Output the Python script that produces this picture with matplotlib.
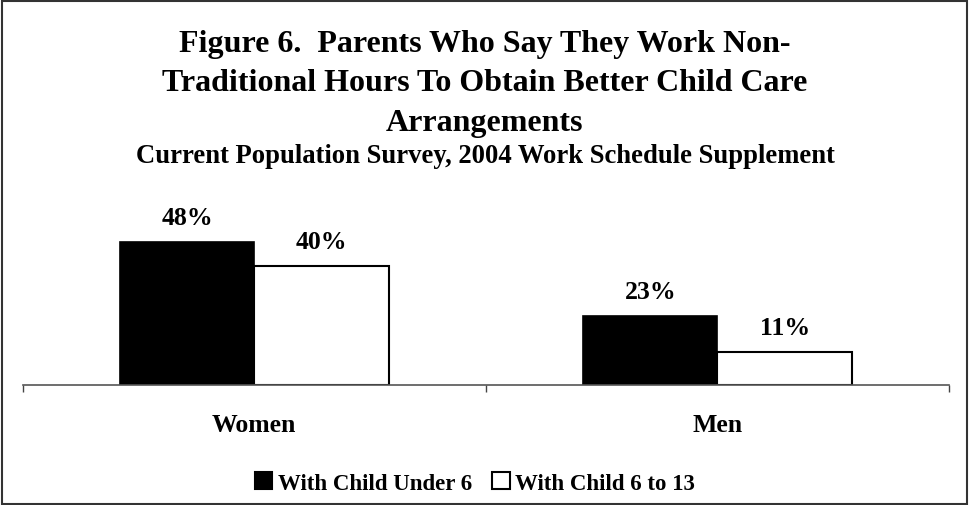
import matplotlib
matplotlib.use("Agg")
import matplotlib.pyplot as plt
import numpy as np
from matplotlib.patches import Patch, Rectangle

categories = ["Women", "Men"]
series_names = ["With Child Under 6", "With Child 6 to 13"]
under6 = [48, 23]
six_to_13 = [40, 11]
title_lines = ["Figure 6.  Parents Who Say They Work Non-",
               "Traditional Hours To Obtain Better Child Care",
               "Arrangements"]
subtitle = "Current Population Survey, 2004 Work Schedule Supplement"

plt.rcParams['font.family'] = ['Liberation Serif', 'DejaVu Serif']
plt.rcParams['font.weight'] = 'bold'

fig = plt.figure(figsize=(9.7, 5.06), dpi=100)
ax = fig.add_axes([22.7/970, 120/506, (949-22.7)/970, 179/506])

x = np.arange(len(categories))
w = 0.29
b1 = ax.bar(x - w/2, under6, w, color='black', edgecolor='black', linewidth=1.2)
b2 = ax.bar(x + w/2, six_to_13, w, color='white', edgecolor='black', linewidth=1.5)

for bars, vals in ((b1, under6), (b2, six_to_13)):
    for r, v in zip(bars, vals):
        ax.annotate(f"{v}%", (r.get_x() + r.get_width()/2, r.get_height()),
                    xytext=(0, 13), textcoords='offset points',
                    ha='center', va='baseline', fontsize=18.5, fontweight='bold')

ax.set_xlim(-0.5, 1.5)
ax.set_ylim(0, 60)
ax.set_yticks([])
ax.set_xticks(x, labels=categories)
ax.tick_params(axis='x', which='major', length=0, pad=20.5, labelsize=18.5)
ax.set_xticks([-0.5, 0.5, 1.5], minor=True)
ax.tick_params(axis='x', which='minor', length=5, width=1, color='#444444', direction='out')
for s in ['left', 'right', 'top']:
    ax.spines[s].set_visible(False)
ax.spines['bottom'].set_color('#555555')
ax.spines['bottom'].set_linewidth(1.2)
ax.patch.set_alpha(0)

for line, base in zip(title_lines, [52, 91.5, 131]):
    fig.text(0.5, 1 - base/506, line, ha='center', va='baseline',
             fontsize=23, fontweight='bold')
fig.text(0.5, 1 - 163/506, subtitle, ha='center', va='baseline',
         fontsize=19.2, fontweight='bold')

handles = [Patch(facecolor='black', edgecolor='black', linewidth=1.5),
           Patch(facecolor='white', edgecolor='black', linewidth=1.5)]
fig.legend(handles, series_names, loc='center', bbox_to_anchor=(475/970, 1 - 484/506),
           ncol=2, frameon=False, fontsize=16.5, handlelength=0.75, handleheight=0.75,
           handletextpad=0.25, columnspacing=0.9, borderpad=0, borderaxespad=0)

fig.add_artist(Rectangle((2/970, 1/506), 965/970, 503/506, transform=fig.transFigure,
                         fill=False, edgecolor='#333333', linewidth=1.5))

fig.savefig("out.png", dpi=100)
